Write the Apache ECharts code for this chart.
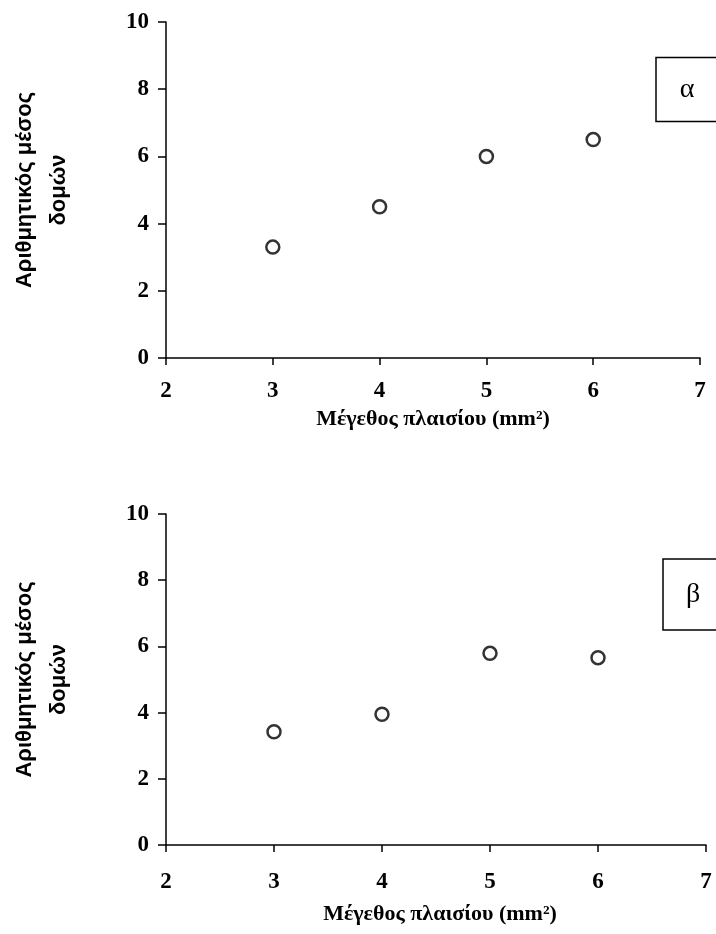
<!DOCTYPE html>
<html>
<head>
<meta charset="utf-8">
<script src="https://cdn.jsdelivr.net/npm/echarts@6/dist/echarts.min.js"></script>
<style>
  html, body { margin: 0; padding: 0; background: #fff; }
  #chart { width: 716px; height: 934px; }
</style>
</head>
<body>
<div id="chart"></div>
<script>
// Frame size (mm²) on the x axis
const frameSizes = [3, 4, 5, 6];
// Mean number of structures, panel α
const meanAlpha = [3.3, 4.5, 6.0, 6.5];
// Mean number of structures, panel β
const meanBeta = [3.42, 3.95, 5.79, 5.66];
// Axis ranges and tick labels
const xTicks = [2, 3, 4, 5, 6, 7];
const yTicks = [0, 2, 4, 6, 8, 10];
const panelLabels = ['α', 'β'];
const xTitle = 'Μέγεθος πλαισίου (mm²)';
const yTitle = 'Αριθμητικός μέσος\nδομών';

const tickFont = { color: '#000', fontFamily: 'Liberation Serif', fontWeight: 'bold', fontSize: 23 };
const axisLine = { show: true, onZero: false, lineStyle: { color: '#000', width: 1.5 } };

function xAxisFor(gridIndex) {
  return {
    type: 'value', gridIndex,
    min: xTicks[0], max: xTicks[xTicks.length - 1], interval: 1,
    axisLine,
    axisTick: { show: true, length: 7, lineStyle: { color: '#000', width: 1.5 } },
    axisLabel: Object.assign({ margin: gridIndex === 0 ? 22 : 26 }, tickFont),
    splitLine: { show: false },
    name: xTitle,
    nameLocation: 'middle',
    nameGap: gridIndex === 0 ? 50 : 58,
    nameTextStyle: {
      color: '#000', fontFamily: 'Liberation Serif', fontWeight: 'bold', fontSize: 22,
      padding: [0, 0, 0, gridIndex === 0 ? 0 : 8]
    }
  };
}

function yAxisFor(gridIndex) {
  return {
    type: 'value', gridIndex,
    min: yTicks[0], max: yTicks[yTicks.length - 1], interval: 2,
    axisLine,
    axisTick: { show: true, length: 8, lineStyle: { color: '#000', width: 1.5 } },
    axisLabel: Object.assign({ margin: 17 }, tickFont),
    splitLine: { show: false },
    name: yTitle,
    nameLocation: 'middle',
    nameRotate: 90,
    nameGap: 90,
    nameTextStyle: {
      color: '#000', fontFamily: 'Liberation Sans', fontWeight: 'bold', fontSize: 22,
      lineHeight: 34, align: 'center'
    }
  };
}

function pointsSeries(values, idx) {
  return {
    type: 'scatter', xAxisIndex: idx, yAxisIndex: idx,
    data: frameSizes.map((x, i) => [x, values[i]]),
    symbol: 'circle', symbolSize: 13,
    itemStyle: { color: '#fff', borderColor: '#000', borderWidth: 2.5 },
    emphasis: { disabled: true }
  };
}

function panelBox(label, x, y, h, textX) {
  return {
    type: 'group',
    children: [
      { type: 'rect', shape: { x, y, width: 80, height: h },
        style: { fill: '#fff', stroke: '#000', lineWidth: 1.5 } },
      { type: 'text', x: textX, y: y + h / 2,
        style: { text: label, font: '28px "Liberation Serif"', fill: '#000',
                 textAlign: 'center', textVerticalAlign: 'middle' } }
    ]
  };
}

const chart = echarts.init(document.getElementById('chart'), null, { renderer: 'canvas' });
chart.setOption({
  animation: false,
  backgroundColor: '#fff',
  grid: [
    { left: 166, right: 16, top: 22, bottom: 576 },
    { left: 166, right: 10, top: 514, bottom: 89 }
  ],
  xAxis: [xAxisFor(0), xAxisFor(1)],
  yAxis: [yAxisFor(0), yAxisFor(1)],
  series: [pointsSeries(meanAlpha, 0), pointsSeries(meanBeta, 1)],
  graphic: [
    panelBox(panelLabels[0], 656, 57.5, 64, 687),
    panelBox(panelLabels[1], 663, 559, 71, 693)
  ]
});
</script>
</body>
</html>
